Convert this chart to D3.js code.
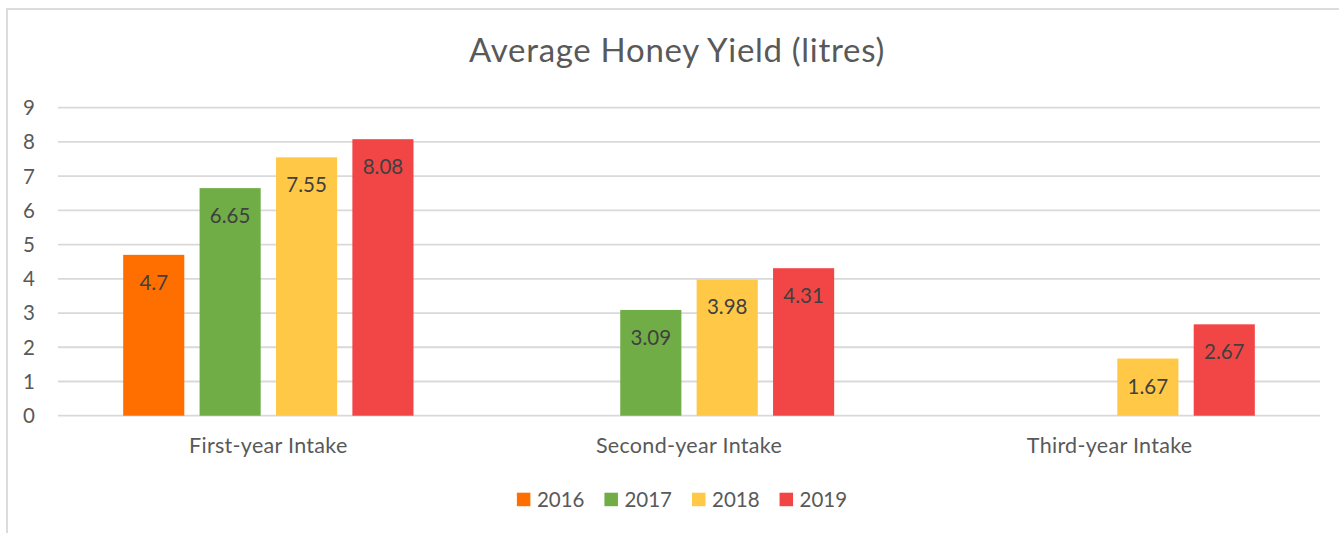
<!DOCTYPE html>
<html>
<head>
<meta charset="utf-8">
<script src="https://cdn.jsdelivr.net/npm/d3@7"></script>
<style>
  html, body { margin: 0; padding: 0; background: #fff; }
  svg { display: block; font-family: Lato, "Open Sans", sans-serif; }
</style>
</head>
<body>
<svg id="chart" width="1339" height="533"></svg>
<script>
const title = "Average Honey Yield (litres)";
const categories = ["First-year Intake", "Second-year Intake", "Third-year Intake"];
const seriesNames = ["2016", "2017", "2018", "2019"];
const values2016 = [4.7, null, null];
const values2017 = [6.65, 3.09, null];
const values2018 = [7.55, 3.98, 1.67];
const values2019 = [8.08, 4.31, 2.67];
const yTicks = [0, 1, 2, 3, 4, 5, 6, 7, 8, 9];
const colors = ["#FF6F00", "#70AD47", "#FFC947", "#F24646"];

const seriesValues = [values2016, values2017, values2018, values2019];

const svg = d3.select("#chart");
const W = 1339, H = 533;
const plot = { left: 58, right: 1320, top: 107.7, bottom: 415.7 };

// chart border
svg.append("rect")
  .attr("x", 7).attr("y", 9)
  .attr("width", W + 20).attr("height", H + 20)
  .attr("fill", "#fff").attr("stroke", "#D9D9D9").attr("stroke-width", 1.8);

// title
svg.append("text")
  .attr("x", 677).attr("y", 62)
  .attr("text-anchor", "middle")
  .attr("fill", "#595959")
  .style("font-size", "33px")
  .style("letter-spacing", "0.7px")
  .text(title);

const y = d3.scaleLinear().domain([0, 9]).range([plot.bottom, plot.top]);
const x0 = d3.scaleBand().domain(categories).range([plot.left, plot.right]).padding(0);
const x1 = d3.scaleBand().domain(seriesNames).range([0, x0.bandwidth()])
  .paddingInner(0.2).paddingOuter(0.853);
const color = d3.scaleOrdinal().domain(seriesNames).range(colors);

// gridlines
svg.append("g").selectAll("line").data(yTicks).join("line")
  .attr("x1", plot.left).attr("x2", plot.right)
  .attr("y1", d => y(d)).attr("y2", d => y(d))
  .attr("stroke", "#D9D9D9").attr("stroke-width", 1.8);

// y tick labels
svg.append("g").selectAll("text").data(yTicks).join("text")
  .attr("x", 35).attr("y", d => y(d))
  .attr("dy", "0.36em")
  .attr("text-anchor", "end")
  .attr("fill", "#595959")
  .style("font-size", "20.5px")
  .text(d => d);

// bars
const flat = [];
categories.forEach((c, ci) => {
  seriesNames.forEach((s, si) => {
    const v = seriesValues[si][ci];
    if (v !== null) flat.push({ cat: c, series: s, value: v });
  });
});

const barG = svg.append("g");
barG.selectAll("rect").data(flat).join("rect")
  .attr("x", d => x0(d.cat) + x1(d.series))
  .attr("y", d => y(d.value))
  .attr("width", x1.bandwidth())
  .attr("height", d => y(0) - y(d.value))
  .attr("fill", d => color(d.series));

barG.selectAll("text").data(flat).join("text")
  .attr("x", d => x0(d.cat) + x1(d.series) + x1.bandwidth() / 2)
  .attr("y", d => y(d.value) + 35)
  .attr("text-anchor", "middle")
  .attr("fill", "#404040")
  .style("font-size", "20.5px")
  .text(d => d.value);

// category labels
svg.append("g").selectAll("text").data(categories).join("text")
  .attr("x", d => x0(d) + x0.bandwidth() / 2)
  .attr("y", 453)
  .attr("text-anchor", "middle")
  .attr("fill", "#595959")
  .style("font-size", "21.5px")
  .style("letter-spacing", "0.3px")
  .text(d => d);

// legend
const legend = svg.append("g");
const items = legend.selectAll("g").data(seriesNames).join("g");
items.append("rect")
  .attr("width", 13.5).attr("height", 13.5)
  .attr("y", 492.7)
  .attr("fill", d => color(d));
items.append("text")
  .attr("x", 20).attr("y", 507)
  .attr("fill", "#595959")
  .style("font-size", "20.5px")
  .text(d => d);
const widths = [];
items.each(function () {
  const tw = d3.select(this).select("text").node().getComputedTextLength();
  widths.push(20 + tw);
});
const gap = 20;
const total = d3.sum(widths) + gap * (widths.length - 1);
let start = 682 - total / 2;
items.attr("transform", (d, i) => {
  const t = `translate(${start},0)`;
  start += widths[i] + gap;
  return t;
});
</script>
</body>
</html>
